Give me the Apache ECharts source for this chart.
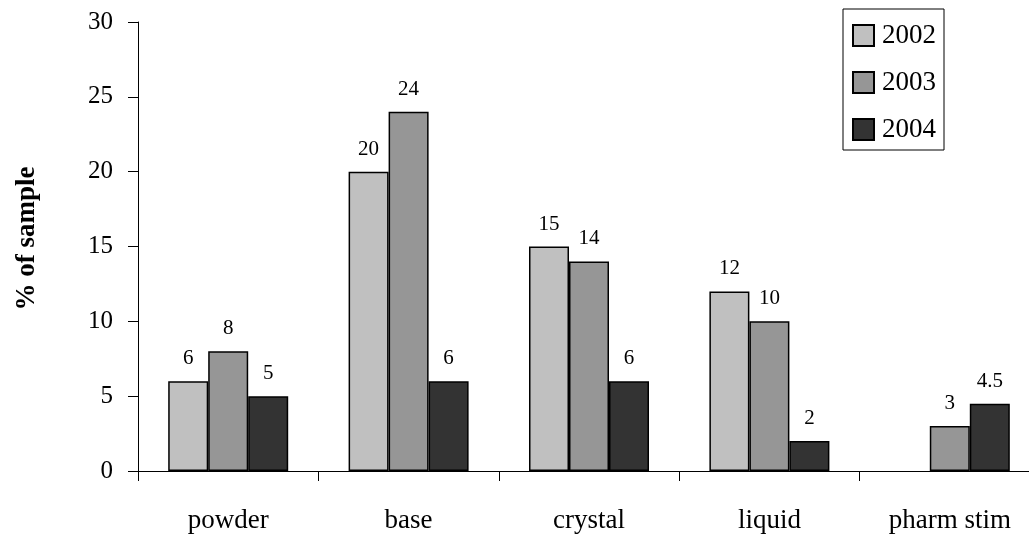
<!DOCTYPE html>
<html><head><meta charset="utf-8">
<script src="https://cdn.jsdelivr.net/npm/echarts@6/dist/echarts.min.js"></script>
<style>html,body{margin:0;padding:0;background:#fff;overflow:hidden}#c{width:1040px;height:538px}</style>
</head><body><div id="c"></div>
<script>
const categories = ['powder', 'base', 'crystal', 'liquid', 'pharm stim'];
const seriesNames = ['2002', '2003', '2004'];
const v2002 = [6, 20, 15, 12, null];
const v2003 = [8, 24, 14, 10, 3];
const v2004 = [5, 6, 6, 2, 4.5];
const yTicks = [0, 5, 10, 15, 20, 25, 30];

const colors = ['#c0c0c0', '#969696', '#333333'];
const font = '"Liberation Serif", "DejaVu Serif", serif';
const values = [v2002, v2003, v2004];

const chart = echarts.init(document.getElementById('c'));
chart.setOption({
  animation: false,
  textStyle: { fontFamily: font },
  grid: { left: 138, right: 0, top: 22, height: 449, containLabel: false },
  legend: {
    data: seriesNames,
    orient: 'vertical',
    left: 843, top: 9,
    padding: [13, 8, 7, 9],
    itemGap: 20,
    itemWidth: 21, itemHeight: 21,
    borderColor: '#000', borderWidth: 1,
    textStyle: { fontFamily: font, fontSize: 27, color: '#000', padding: [0, 0, 0, 3] },
    icon: 'rect'
  },
  xAxis: {
    type: 'category',
    data: categories,
    axisLine: { lineStyle: { color: '#000', width: 1 } },
    axisTick: { show: true, length: 10, lineStyle: { color: '#000' } },
    axisLabel: { fontFamily: font, fontSize: 27, color: '#000', margin: 36 }
  },
  yAxis: {
    type: 'value',
    min: yTicks[0], max: yTicks[yTicks.length - 1], interval: 5,
    name: '% of sample',
    nameLocation: 'middle',
    nameGap: 97,
    nameRotate: 90,
    nameTextStyle: { fontFamily: font, fontSize: 27, fontWeight: 'bold', color: '#000', padding: [0, 0, 0, 16] },
    splitLine: { show: false },
    axisLine: { show: true, lineStyle: { color: '#000', width: 1 } },
    axisTick: { show: true, length: 10, lineStyle: { color: '#000' } },
    axisLabel: { fontFamily: font, fontSize: 25, color: '#000', margin: 25 }
  },
  series: seriesNames.map((n, i) => ({
    name: n,
    type: 'bar',
    data: values[i],
    barWidth: 40,
    barGap: '0%',
    itemStyle: { color: colors[i], borderColor: '#000', borderWidth: 1.5 },
    label: { show: true, position: 'top', distance: 12, fontFamily: font, fontSize: 21, color: '#000' }
  }))
});
</script></body></html>
